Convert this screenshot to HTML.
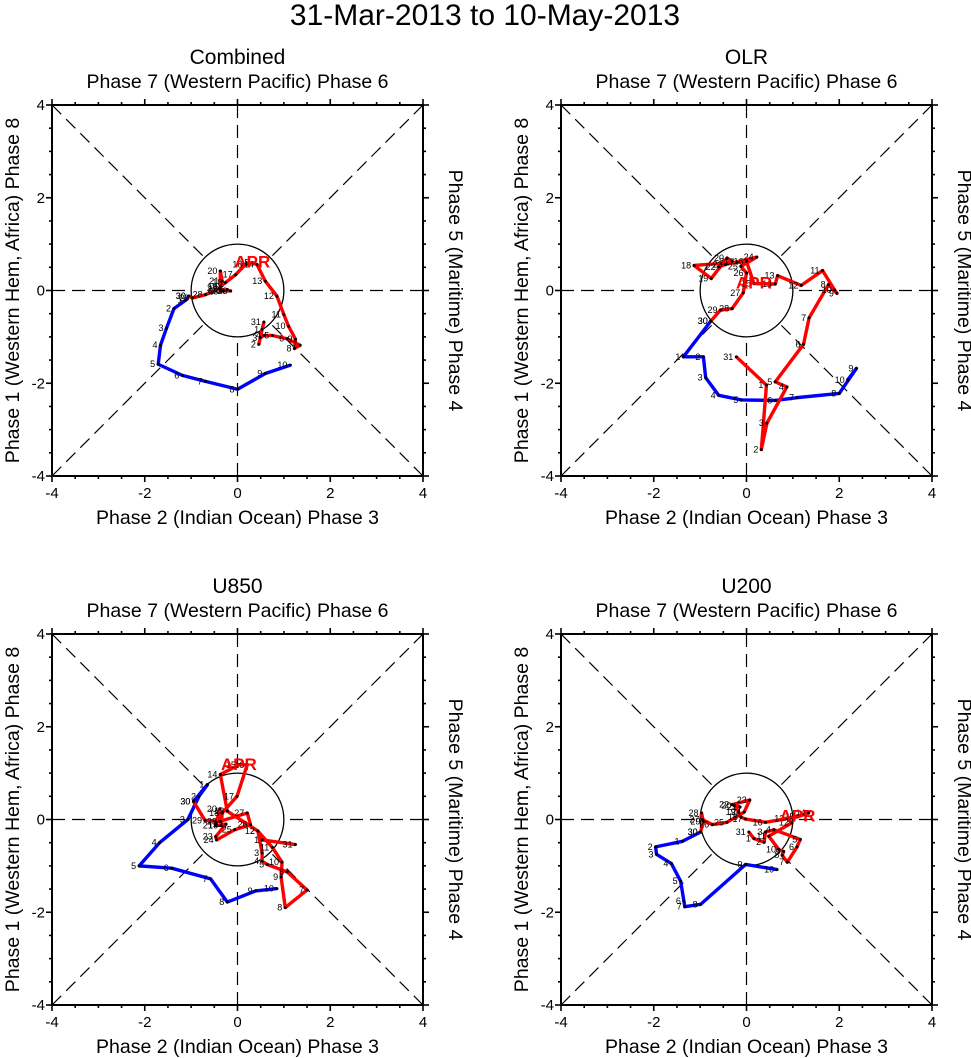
<!DOCTYPE html>
<html><head><meta charset="utf-8"><style>
body{margin:0;background:#fff;}
svg{display:block;font-family:"Liberation Sans",Arial,sans-serif;}
</style></head><body>
<svg id="c" width="971" height="1058" xmlns="http://www.w3.org/2000/svg">
<text x="485" y="25" font-size="30" text-anchor="middle">31-Mar-2013 to 10-May-2013</text>
</svg>
<script>
const panelNames=["Combined","OLR","U850","U200"];
const redDays=[31,1,2,3,4,5,6,7,8,9,10,11,12,13,14,15,16,17,18,19,20,21,22,23,24,25,26,27,28,29,30];
const blueDays=[30,1,2,3,4,5,6,7,8,9,10];
const redX1=[0.57,0.53,0.46,0.49,0.57,0.75,1.07,1.35,1.23,1.25,1.10,1.0,0.85,0.60,0.42,0.32,0.17,-0.04,-0.26,-0.37,-0.37,-0.33,-0.37,-0.15,-0.30,-0.22,-0.35,-0.38,-0.69,-0.97,-1.05];
const redY1=[-0.68,-0.84,-1.16,-1.02,-0.97,-0.97,-1.04,-1.18,-1.25,-1.05,-0.77,-0.52,-0.12,0.20,0.56,0.60,0.56,0.34,0.17,0.09,0.42,0.20,0.02,-0.01,-0.01,0.02,-0.02,0.05,-0.09,-0.16,-0.12];
const blueX1=[-1.05,-1.12,-1.37,-1.53,-1.66,-1.71,-1.19,-0.69,0,0.60,1.14];
const blueY1=[-0.12,-0.21,-0.39,-0.81,-1.18,-1.59,-1.83,-1.96,-2.13,-1.79,-1.61];
const redX2=[-0.22,0.43,0.32,0.44,0.87,0.62,1.23,1.35,1.77,1.95,1.90,1.64,1.18,0.67,0.62,0.16,0,-0.20,-1.13,-0.76,-0.42,-0.31,-0.60,-0.45,0.22,-0.12,0,-0.07,-0.31,-0.56,-0.77];
const redY2=[-1.43,-2.04,-3.43,-2.86,-2.08,-1.97,-1.16,-0.59,0.13,-0.06,0.01,0.43,0.11,0.32,0.14,0.15,0.63,0.61,0.54,0.26,0.70,0.63,0.51,0.56,0.72,0.52,0.38,-0.05,-0.39,-0.42,-0.66];
const blueX2=[-0.77,-1.36,-0.93,-0.88,-0.60,-0.11,0.62,1.09,2.0,2.37,2.18];
const blueY2=[-0.66,-1.43,-1.43,-1.88,-2.26,-2.36,-2.37,-2.31,-2.22,-1.68,-1.93];
const redX3=[1.25,0.53,0.44,0.53,0.53,0.64,1.07,1.50,1.03,0.94,0.96,0.75,0.44,-0.22,-0.37,0.03,0.21,-0.01,-0.33,-0.35,-0.38,-0.47,-0.25,-0.47,-0.45,-0.06,0.28,0.21,-0.38,-0.70,-0.95];
const redY3=[-0.54,-0.44,-0.25,-0.72,-0.90,-0.97,-1.13,-1.52,-1.90,-1.24,-0.92,-0.60,-0.25,0.18,0.97,1.18,1.18,0.50,0.14,-0.13,0.23,-0.13,-0.10,-0.37,-0.44,-0.22,-0.11,0.14,-0.04,-0.02,0.39];
const blueX3=[-0.95,-0.65,-0.83,-1.07,-1.68,-2.12,-1.42,-0.58,-0.22,0.39,0.85];
const blueY3=[0.39,0.75,0.50,0,-0.50,-1.0,-1.05,-1.28,-1.78,-1.54,-1.49];
const redX4=[0.05,0.16,0.38,0.41,0.59,1.16,1.09,0.88,0.77,0.80,0.70,0.48,0.98,0.88,1.34,1.10,0.41,-0.02,-0.12,-0.17,-0.26,-0.14,-0.31,0.07,-0.05,-0.42,-0.74,-0.95,-0.97,-0.93,-0.99];
const redY4=[-0.27,-0.41,-0.49,-0.27,-0.22,-0.43,-0.59,-0.92,-0.77,-0.69,-0.65,-0.36,-0.07,0.02,0.14,0.06,-0.06,0.01,0.05,0.16,0.30,0.27,0.32,0.42,0.16,-0.06,-0.11,0,0.14,-0.04,-0.27];
const blueX4=[-0.99,-1.38,-1.96,-1.94,-1.62,-1.42,-1.35,-1.33,-0.99,-0.02,0.66];
const blueY4=[-0.27,-0.47,-0.59,-0.75,-0.95,-1.33,-1.76,-1.88,-1.83,-0.97,-1.08];
const redXs=[redX1,redX2,redX3,redX4],redYs=[redY1,redY2,redY3,redY4];
const blueXs=[blueX1,blueX2,blueX3,blueX4],blueYs=[blueY1,blueY2,blueY3,blueY4];
const ticks=[-4,-2,0,2,4];

const NS="http://www.w3.org/2000/svg";
const svg=document.getElementById('c');
function mk(t,a,p){const e=document.createElementNS(NS,t);for(const k in a)e.setAttribute(k,a[k]);(p||svg).appendChild(e);return e;}
const origins=[[52,105],[561,105],[52,634],[561,634]];
const W=371,S=W/8;
origins.forEach((o,pi)=>{
  const g=mk('g',{});
  
  
  const x0=o[0],y0=o[1],cx=x0+W/2,cy=y0+W/2;
  const sx=v=>cx+v*S, sy=v=>cy-v*S;
  const r=S, d=r/Math.SQRT2;
  const dl=[[x0,y0,cx-d,cy-d],[x0+W,y0,cx+d,cy-d],[x0,y0+W,cx-d,cy+d],[x0+W,y0+W,cx+d,cy+d],[x0,cy,cx-r,cy],[x0+W,cy,cx+r,cy],[cx,y0,cx,cy-r],[cx,y0+W,cx,cy+r]];
  dl.forEach(l=>{const e=mk('line',{x1:l[0],y1:l[1],x2:l[2],y2:l[3],stroke:'#000','stroke-width':1.2,'stroke-dasharray':'13,7'},g);
    
    });
  const circ=mk('circle',{cx:cx,cy:cy,r:r,fill:'none',stroke:'#000','stroke-width':1.3},g);
  
  
  const fr=mk('rect',{x:x0,y:y0,width:W,height:W,fill:'none',stroke:'#000','stroke-width':2},g);
  
  
  for(let v=-4;v<=4.001;v+=0.5){
    const maj=Math.abs(v%2)<0.01, L=maj?6:3;
    mk('line',{x1:sx(v),y1:y0+W,x2:sx(v),y2:y0+W+L,stroke:'#000','stroke-width':1.6},g);
    mk('line',{x1:sx(v),y1:y0,x2:sx(v),y2:y0-L,stroke:'#000','stroke-width':1.6},g);
    mk('line',{x1:x0,y1:sy(v),x2:x0-L,y2:sy(v),stroke:'#000','stroke-width':1.6},g);
    mk('line',{x1:x0+W,y1:sy(v),x2:x0+W+L,y2:sy(v),stroke:'#000','stroke-width':1.6},g);
  }
  ticks.forEach(t=>{
    const a=mk('text',{x:sx(t),y:y0+W+22,'font-size':15,'text-anchor':'middle'},g);a.textContent=t;
    
    
    const b=mk('text',{x:x0-7,y:sy(t)+5,'font-size':15,'text-anchor':'end'},g);b.textContent=t;
    
    
  });
  const tt=mk('text',{x:cx,y:y0-41,'font-size':21,'text-anchor':'middle'},g);tt.textContent=panelNames[pi];
  
  
  const top=mk('text',{x:cx,y:y0-17,'font-size':19.5,'text-anchor':'middle'},g);top.textContent='Phase 7 (Western Pacific) Phase 6';
  
  
  const bot=mk('text',{x:cx,y:y0+W+48,'font-size':19.5,'text-anchor':'middle'},g);bot.textContent='Phase 2 (Indian Ocean) Phase 3';
  
  
  const lf=mk('text',{x:0,y:0,'font-size':19.5,'text-anchor':'middle',transform:`translate(${x0-33},${cy}) rotate(-90)`},g);lf.textContent='Phase 1 (Western Hem, Africa) Phase 8';
  
  
  const rt=mk('text',{x:0,y:0,'font-size':19.5,'text-anchor':'middle',transform:`translate(${x0+W+26},${cy}) rotate(90)`},g);rt.textContent='Phase 5 (Maritime) Phase 4';
  
  
  const series=[[blueXs[pi],blueYs[pi],blueDays,'#0000ff','may-trajectory'],[redXs[pi],redYs[pi],redDays,'#ff0000','april-trajectory']];
  series.forEach(s=>{
    const pts=s[0].map((v,i)=>sx(v)+','+sy(s[1][i])).join(' ');
    const pl=mk('polyline',{points:pts,fill:'none',stroke:s[3],'stroke-width':3.4,'stroke-linejoin':'round'},g);
    
    
  });
  series.forEach(s=>{
    s[0].forEach((v,i)=>{
      const dot=mk('circle',{cx:sx(v),cy:sy(s[1][i]),r:1.5,fill:'#000'},g);
      
      
      const lb=mk('text',{x:sx(v)-3,y:sy(s[1][i])+3,'font-size':9,'text-anchor':'end'},g);lb.textContent=s[2][i];
      
      
    });
  });
  const ai=15;
  const apr=mk('text',{x:sx(redXs[pi][ai]),y:sy(redYs[pi][ai])+5,'font-size':17,'font-weight':'bold',fill:'#ff0000','text-anchor':'middle'},g);apr.textContent='APR';
  
  
});
</script>
</body></html>
